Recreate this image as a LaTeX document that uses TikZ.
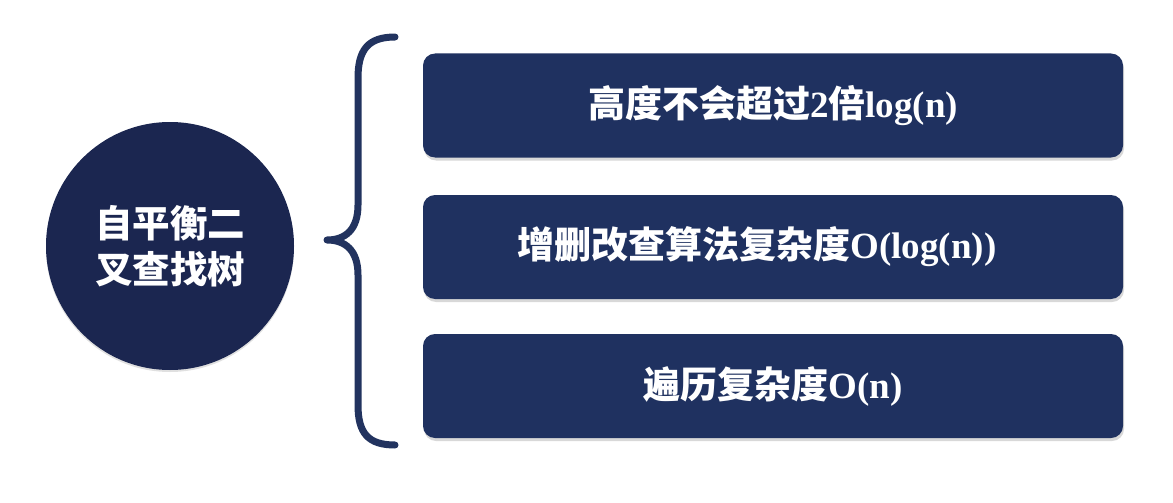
\documentclass[tikz,border=0pt]{standalone}
\usepackage{fontspec}
\setmainfont{Liberation Serif}
\newfontfamily\cjk{Noto Sans CJK SC}
\usetikzlibrary{shadows}
\definecolor{boxblue}{RGB}{31,49,96}
\definecolor{circblue}{RGB}{27,38,80}
\definecolor{braceblue}{RGB}{34,51,95}
\begin{document}
\begin{tikzpicture}[x=1pt,y=-1pt,
  itembox/.style={fill=boxblue, rounded corners=12pt, minimum width=700pt,
    minimum height=104pt, inner sep=0pt, text=white,
    font=\fontsize{37}{44}\selectfont\bfseries,
    drop shadow={shadow xshift=1pt, shadow yshift=-3pt, opacity=0.25, fill=black!60}},
  hub/.style={circle, fill=circblue, minimum size=248pt, inner sep=0pt,
    text=white, align=center, font=\cjk\bfseries\fontsize{37.5}{46}\selectfont,
    drop shadow={shadow xshift=0pt, shadow yshift=-2pt, opacity=0.2, fill=black!60}},
  bracestroke/.style={draw=braceblue, line width=7pt, line cap=round, line join=round}]
\useasboundingbox[fill=white] (0,0) rectangle (1173,503);
\node[hub] (hub) at (170,246) {自平衡二\\叉查找树};
\node[itembox] (b1) at (773,105.5) {{\cjk 高度不会超过}2{\cjk 倍}log(n)};
\node[itembox] (b2) at (773,247) {{\cjk 增删改查算法复杂度}O(log(n))\hspace*{32pt}};
\node[itembox] (b3) at (773,386) {{\cjk 遍历复杂度}O(n)};
\coordinate (tip) at (327,240);
\draw[bracestroke] (395,37) .. controls (368,37) and (358,50) .. (358,78)
  -- (358,205) .. controls (358,230) and (345,240) .. (tip)
  .. controls (345,240) and (358,250) .. (358,275)
  -- (358,405) .. controls (358,433) and (368,445) .. (395,445);
\end{tikzpicture}
\end{document}
